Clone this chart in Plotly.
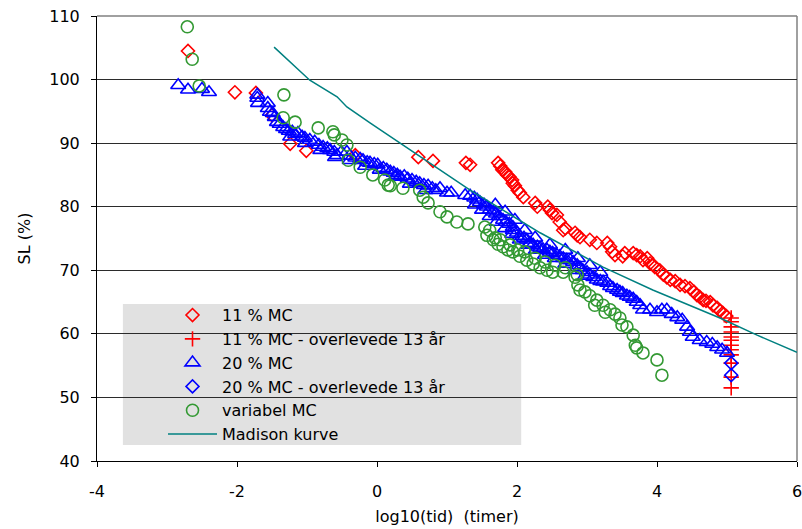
import plotly.graph_objects as go

# ---------------- data ----------------
mc11_x = [-2.70, -2.03, -1.73, -1.50, -1.24, -1.01, -0.31, 0.59, 0.80, 1.27, 1.33,
          1.73, 1.76, 1.79, 1.83, 1.86, 1.89, 1.93, 1.94, 1.97, 2.01, 2.04, 2.09,
          2.26, 2.29, 2.44, 2.47, 2.50, 2.57, 2.61, 2.66, 2.69, 2.83, 2.86, 2.90,
          3.04, 3.14, 3.29, 3.33, 3.36, 3.40, 3.51, 3.54, 3.66, 3.71, 3.76, 3.80,
          3.86, 3.90, 3.94, 3.97, 4.04, 4.09, 4.14, 4.19, 4.26, 4.33, 4.40, 4.47,
          4.53, 4.57, 4.61, 4.66, 4.70, 4.76, 4.80, 4.86, 4.90, 4.94, 4.99]
mc11_y = [104.5, 98.0, 97.9, 94.4, 89.9, 88.8, 88.1, 87.8, 87.2, 86.9, 86.6,
          86.9, 86.4, 85.8, 85.5, 85.0, 84.7, 84.2, 83.7, 83.3, 82.6, 82.2, 81.5,
          80.6, 80.0, 80.0, 79.5, 79.0, 78.7, 77.6, 76.3, 76.6, 75.9, 75.5, 75.2,
          74.8, 74.3, 74.3, 73.7, 72.9, 72.4, 72.2, 72.7, 72.7, 72.4, 72.2, 71.6,
          71.9, 71.1, 70.9, 70.5, 70.0, 69.3, 68.9, 68.5, 68.3, 67.7, 67.5, 67.2,
          66.6, 66.1, 65.8, 65.3, 65.2, 65.0, 64.5, 64.1, 63.6, 63.3, 62.8]

mc11_surv_x = [5.06, 5.06, 5.06, 5.06, 5.06, 5.06, 5.06, 5.06, 5.06, 5.06, 5.06, 5.06]
mc11_surv_y = [62.5, 61.9, 61.1, 60.3, 59.5, 59.0, 58.2, 57.5, 56.7, 55.4, 53.2, 51.5]

mc20_x = [-2.84, -2.70, -2.50, -2.40,
          -1.71, -1.71, -1.70, -1.56, -1.56, -1.53, -1.49, -1.46, -1.43, -1.39,
          -1.34, -1.30, -1.26, -1.21, -1.17, -1.13, -1.07, -1.03, -0.96, -0.89,
          -0.83, -0.77, -0.71, -0.67, -0.61, -0.57, -0.51, -0.43, -0.39, -0.31,
          -0.24, -0.20, -0.14, -0.10, -0.04, 0.01, 0.09, 0.14, 0.19, 0.24, 0.29,
          0.33, 0.39, 0.44, 0.50, 0.56, 0.61, 0.67, 0.73, 0.79, 0.84, 0.90,
          1.00, 1.06, 1.26, 1.33, 1.39, 1.43, 1.47, 1.53, 1.57, 1.61, 1.66,
          1.70, 1.74, 1.80, 1.84, 1.89, 1.94, 1.94, 2.00, 2.04, 2.10, 2.14,
          2.19, 2.23, 2.29, 2.33, 2.37, 2.43, 2.47, 2.51, 2.57, 2.61, 2.66,
          2.71, 2.76, 2.80, 2.86, 2.90, 2.94, 3.00, 3.04, 3.09, 3.14, 3.19,
          3.23, 3.29, 3.33, 3.37, 3.43, 3.47, 3.51, 3.57, 3.61, 3.66, 3.71,
          3.76, 3.80, 3.90, 4.00, 4.07, 4.14, 4.21, 4.29, 4.36, 4.43, 4.47,
          4.51, 4.61, 4.71, 4.79, 4.86, 4.93, 5.00,
          1.40, 1.50, 1.61, 1.71, 1.83, 1.93, 2.04, 2.16, 2.27, 2.40, 2.54,
          2.69, 2.83, 2.97, 1.69, 1.83, 1.97, 2.11, 2.26, 2.47, 2.69, 2.87,
          3.04, 3.19,
          -1.24, -1.03, -0.81, -0.60, -0.39, -0.17, 0.04, 0.26, 0.47, 0.69]
mc20_y = [99.1, 98.4, 98.5, 98.0,
          97.6, 97.1, 96.3, 96.3, 95.5, 94.9, 94.7, 94.1, 93.3, 93.0,
          92.5, 92.2, 91.9, 91.8, 91.4, 91.6, 91.0, 90.8, 90.5, 90.2,
          89.7, 89.4, 89.2, 88.9, 88.6, 88.1, 88.6, 88.6, 88.0, 87.7,
          87.5, 87.3, 87.0, 86.9, 86.7, 86.6, 86.1, 85.8, 85.5, 85.3, 85.0,
          84.7, 84.8, 84.4, 84.2, 83.9, 83.7, 83.4, 83.3, 82.9, 82.6, 82.9,
          82.2, 82.2, 81.8, 81.7, 81.4, 81.1, 80.7, 80.3, 80.0, 79.5, 79.2,
          78.9, 78.5, 77.9, 77.6, 77.3, 76.8, 76.3, 75.9, 75.4, 75.1, 74.8,
          74.3, 74.0, 73.7, 73.5, 73.3, 73.2, 72.9, 72.7, 72.4, 72.2, 71.9,
          71.6, 71.6, 71.3, 70.8, 70.4, 70.0, 69.7, 69.3, 68.9, 68.5, 68.3,
          68.2, 68.0, 67.5, 67.2, 66.9, 66.6, 66.4, 66.0, 65.8, 65.5, 65.0,
          64.5, 63.8, 63.8, 63.4, 63.8, 63.8, 63.1, 62.6, 62.2, 61.1, 60.3,
          59.5, 59.0, 58.7, 58.4, 57.9, 57.5, 57.0,
          80.3, 79.5, 78.5, 77.6, 76.6, 75.7, 74.8, 74.0, 73.2, 72.4, 71.9,
          71.0, 70.0, 69.1, 80.3, 79.2, 77.9, 76.3, 75.1, 74.0, 73.2, 71.9,
          70.8, 69.7,
          91.0, 90.0, 88.9, 87.8, 87.3, 86.4, 85.8, 84.7, 83.6, 82.6]

mc20_surv_x = [5.06, 5.06]
mc20_surv_y = [55.4, 53.5]

var_x = [-2.71, -2.64, -2.54, -1.33, -1.34, -1.17, -0.84, -0.63, -0.61, -0.50,
         -0.43, -0.41, -0.24, -0.06, 0.11, 0.16, 0.19, 0.37, 0.61, 0.66, 0.73,
         0.90, 1.00, 1.14, 1.30, 1.54, 1.57, 1.66, 1.73, 1.80, 1.87, 1.94,
         2.04, 2.14, 2.23, 2.33, 2.43, 2.51, 2.66, 2.83, 2.86, 2.87, 2.97,
         3.04, 3.14, 3.23, 3.33, 3.40, 3.47, 3.57, 3.66, 3.69, 3.71, 3.80,
         4.00, 4.07,
         1.61, 1.69, 1.76, 1.90, 2.01, 2.11, 2.26, 2.40, 2.54, 2.69, 2.90,
         3.11, 3.26, 3.50]
var_y = [108.3, 103.2, 99.0, 97.6, 94.0, 93.3, 92.4, 91.8, 91.3, 90.5,
         89.7, 87.3, 86.2, 85.0, 84.2, 83.4, 83.3, 82.9, 82.6, 81.5, 80.6,
         79.2, 78.4, 77.6, 77.3, 76.8, 75.5, 74.8, 74.1, 73.7, 73.2, 72.9,
         72.2, 71.6, 71.0, 70.4, 70.0, 69.7, 69.7, 68.9, 69.3, 67.7, 66.6,
         66.0, 65.3, 64.5, 63.8, 63.1, 62.5, 61.1, 59.8, 58.2, 57.8, 57.0,
         55.9, 53.5,
         76.3, 75.1, 74.8, 74.0, 73.2, 72.9, 71.9, 71.3, 70.8, 70.4, 66.9,
         64.5, 63.4, 61.4]

madison_x = [-1.47, -0.96, -0.57, -0.43, -0.10, 0.33, 1.33, 2.33, 3.23, 3.94, 4.90, 5.43, 6.00]
madison_y = [105.1, 99.9, 97.3, 95.7, 93.2, 90.0, 82.6, 75.9, 70.5, 66.9, 62.5, 59.8, 57.1]

x_tick_vals = [-4, -2, 0, 2, 4, 6]
x_tick_text = ["-4", "-2", "0", "2", "4", "6"]
y_tick_vals = [40, 50, 60, 70, 80, 90, 100, 110]

RED = "#FF0000"
BLUE = "#0000FF"
GREEN = "#339933"
TEAL = "#008080"
FONT = "DejaVu Sans"

fig = go.Figure()
fig.add_trace(go.Scatter(x=mc11_x, y=mc11_y, mode="markers", name="11 % MC",
                         marker=dict(symbol="diamond-open", size=10, color=RED,
                                     line=dict(width=1.6, color=RED))))
fig.add_trace(go.Scatter(x=mc11_surv_x, y=mc11_surv_y, mode="markers",
                         name="11 % MC - overlevede 13 år",
                         marker=dict(symbol="cross-thin-open", size=11, color=RED,
                                     line=dict(width=1.6, color=RED))))
fig.add_trace(go.Scatter(x=mc20_x, y=mc20_y, mode="markers", name="20 % MC",
                         marker=dict(symbol="triangle-up-open", size=13, color=BLUE,
                                     line=dict(width=1.6, color=BLUE))))
fig.add_trace(go.Scatter(x=mc20_surv_x, y=mc20_surv_y, mode="markers",
                         name="20 % MC - overlevede 13 år",
                         marker=dict(symbol="diamond-open", size=10, color=BLUE,
                                     line=dict(width=1.6, color=BLUE))))
fig.add_trace(go.Scatter(x=var_x, y=var_y, mode="markers", name="variabel MC",
                         marker=dict(symbol="circle-open", size=12, color=GREEN,
                                     line=dict(width=1.6, color=GREEN))))
fig.add_trace(go.Scatter(x=madison_x, y=madison_y, mode="lines", name="Madison kurve",
                         line=dict(color=TEAL, width=1.5)))

# legend background box
fig.add_shape(type="rect", xref="paper", yref="paper",
              x0=0.037, x1=0.606, y0=0.036, y1=0.353,
              fillcolor="#E1E1E1", line=dict(width=0), layer="between")
# gray top / right border of the plot area
fig.add_shape(type="line", xref="paper", yref="paper", x0=0, x1=1, y0=1, y1=1,
              line=dict(color="#808080", width=1.5), layer="between")
fig.add_shape(type="line", xref="paper", yref="paper", x0=1, x1=1, y0=0, y1=1,
              line=dict(color="#808080", width=1.5), layer="between")

fig.update_layout(
    width=802, height=529,
    margin=dict(l=97, r=5, t=16, b=68, autoexpand=False),
    paper_bgcolor="white", plot_bgcolor="white",
    font=dict(family=FONT, size=16, color="black"),
    showlegend=True,
    legend=dict(x=0.0943, y=0.366, xanchor="left", yanchor="top",
                bgcolor="rgba(0,0,0,0)", borderwidth=0, itemwidth=49,
                font=dict(family=FONT, size=16, color="black"),
                traceorder="normal"),
)
fig.update_xaxes(range=[-4, 6], tickvals=x_tick_vals, ticktext=x_tick_text,
                 automargin=False, ticklabeloverflow="allow",
                 showgrid=False, zeroline=False, showline=True, linecolor="black",
                 linewidth=1, ticks="outside", ticklen=5, tickcolor="black",
                 ticklabelstandoff=11,
                 title=dict(text="log10(tid)\u00a0\u00a0(timer)", standoff=10,
                            font=dict(family=FONT, size=16)))
fig.update_yaxes(range=[40, 110], tickvals=y_tick_vals,
                 automargin=False, ticklabeloverflow="allow",
                 showgrid=True, gridcolor="#2b2b2b", gridwidth=1,
                 zeroline=False, showline=True, linecolor="black", linewidth=1,
                 ticks="outside", ticklen=5, tickcolor="black",
                 ticklabelstandoff=8,
                 title=dict(text="SL (%)", standoff=14,
                            font=dict(family=FONT, size=16)))

fig.write_html("out.html", config={"displayModeBar": False},
               post_script="document.body.style.margin='0px';document.body.style.overflow='hidden';")
